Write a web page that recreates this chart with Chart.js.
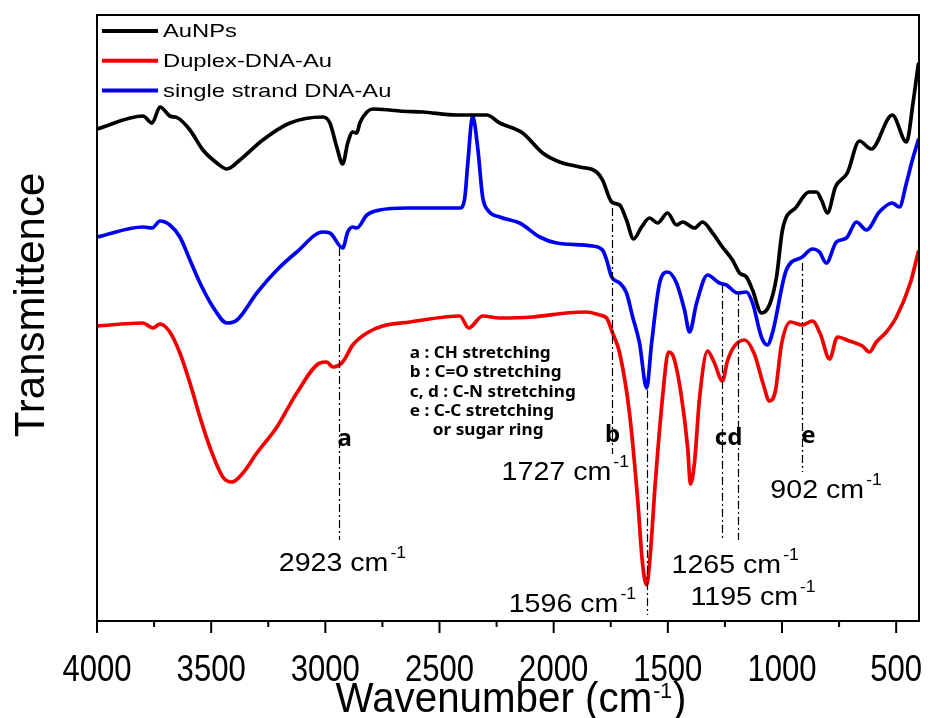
<!DOCTYPE html>
<html>
<head>
<meta charset="utf-8">
<script src="https://cdn.jsdelivr.net/npm/chart.js@4.4.0/dist/chart.umd.min.js"></script>
<style>
  html, body { margin: 0; padding: 0; background: #fff; }
  #wrap { width: 928px; height: 718px; }
</style>
</head>
<body>
<div id="wrap"><canvas id="ftirChart" width="928" height="718"></canvas></div>
<script>
// x-axis: wavenumber (cm-1), reversed
const xMin = 400;
const xMax = 4000;
const xTickLabels = [4000, 3500, 3000, 2500, 2000, 1500, 1000, 500];
const xMinorTicks = [3750, 3250, 2750, 2250, 1750, 1250, 750];

// transmittance, arbitrary units (series offset as in the original figure)
const yMin = 0;
const yMax = 606;

const seriesNames = ['AuNPs', 'Duplex-DNA-Au', 'single strand DNA-Au'];
const seriesColors = ['#000000', '#f20000', '#0000f0'];

const auWave = [4000, 3799, 3759, 3724, 3681, 3646, 3593, 3536, 3475, 3431, 3374, 3274, 3155, 3011, 2980,
  2950, 2924, 2902, 2880, 2862, 2849, 2818, 2792, 2718, 2674, 2573, 2425, 2355, 2293, 2236,
  2136, 2048, 1974, 1886, 1812, 1786, 1746, 1711, 1681, 1650, 1615, 1580, 1545, 1501, 1462,
  1435, 1383, 1348, 1304, 1261, 1217, 1186, 1156, 1129, 1090, 1055, 1024, 998, 937, 880,
  849, 827, 801, 766, 714, 661, 609, 517, 455, 425, 403];
const auT = [492, 505, 498, 514, 505, 503, 491, 471, 458, 452, 461, 481, 498, 504, 498,
  474, 457, 478, 489, 488, 498, 509, 512, 511, 510, 509, 506, 506, 506, 498,
  488, 468, 459, 454, 449, 441, 419, 416, 401, 382, 394, 403, 398, 408, 396,
  399, 393, 399, 388, 374, 361, 348, 344, 331, 308, 316, 344, 391, 414, 429,
  429, 421, 408, 434, 448, 480, 472, 506, 479, 520, 557];

const duplexWave = [4000, 3799, 3755, 3724, 3681, 3637, 3593, 3549, 3506, 3449, 3409, 3361, 3300, 3212, 3125,
  3024, 2994, 2967, 2924, 2880, 2818, 2749, 2630, 2411, 2372, 2311, 2236, 2092, 1943, 1856,
  1799, 1768, 1742, 1711, 1668, 1633, 1611, 1593, 1580, 1554, 1523, 1497, 1475, 1444, 1413,
  1401, 1383, 1361, 1326, 1296, 1261, 1239, 1208, 1164, 1121, 1081, 1055, 1029, 1002, 963,
  911, 867, 832, 792, 757, 705, 648, 617, 587, 543, 499, 438, 403];
const duplexT = [295, 298, 293, 297, 289, 268, 238, 204, 174, 144, 139, 148, 168, 194, 228,
  258, 259, 254, 259, 276, 288, 295, 299, 305, 293, 305, 303, 304, 308, 309,
  306, 303, 288, 268, 208, 124, 58, 36, 58, 141, 224, 269, 264, 230, 173,
  137, 159, 223, 270, 258, 240, 260, 275, 281, 267, 236, 220, 230, 277, 299,
  296, 300, 287, 262, 284, 280, 275, 269, 279, 289, 304, 338, 369];

const ssWave = [4000, 3799, 3759, 3724, 3681, 3637, 3593, 3549, 3492, 3431, 3387, 3300, 3212, 3125, 3011,
  2980, 2924, 2902, 2880, 2862, 2818, 2762, 2643, 2411, 2390, 2376, 2355, 2333, 2311, 2289,
  2236, 2149, 2061, 1987, 1830, 1786, 1768, 1746, 1711, 1681, 1654, 1624, 1593, 1571, 1536,
  1501, 1462, 1427, 1405, 1374, 1326, 1274, 1243, 1195, 1156, 1129, 1090, 1064, 1042, 981,
  911, 867, 836, 806, 762, 718, 674, 630, 574, 517, 486, 455, 429, 403];
const ssT = [384, 394, 393, 400, 396, 384, 361, 338, 314, 298, 301, 328, 351, 369, 389,
  388, 373, 389, 394, 393, 406, 411, 413, 413, 422, 458, 505, 474, 424, 411,
  404, 398, 384, 378, 375, 371, 361, 344, 338, 328, 304, 278, 233, 278, 338,
  349, 338, 311, 289, 318, 346, 338, 336, 328, 329, 318, 284, 276, 288, 351,
  364, 372, 369, 358, 379, 383, 399, 391, 409, 418, 414, 438, 461, 481];

// dash-dot marker lines
const markerWave = [2939, 1746, 1591, 1261, 1191, 911];
const markerTop = [373, 413, 231, 336, 328, 358];
const markerBottom = [81, 167, 6, 81, 81, 149];

// peak letters
const peakLetters = ['a', 'b', 'cd', 'e'];
const letterWave = [2915, 1742, 1234, 884];
const letterT = [182, 186, 183, 185];

// peak position labels
const peakLabels = ['2923', '1727', '1596', '1265', '1195', '902'];
const labelWave = [3204, 2228, 2197, 1484, 1401, 1051];
const labelT = [50, 141, 9, 48, 16, 123];

// assignment notes
const noteLines = ['a : CH stretching', 'b : C=O stretching', 'c, d : C-N stretching', 'e : C-C stretching', 'or sugar ring'];
const noteWave = 2630;
const noteT = 268;

function toPoints(wave, t) {
    return wave.map((w, i) => ({ x: w, y: t[i] }));
}

// draw text squeezed/stretched horizontally
function drawText(ctx, text, x, y, sx, align) {
    const w = ctx.measureText(text).width * sx;
    let x0 = x;
    if (align === 'center') x0 = x - w / 2;
    if (align === 'right') x0 = x - w;
    ctx.save();
    ctx.translate(x0, y);
    ctx.scale(sx, 1);
    ctx.textAlign = 'left';
    ctx.fillText(text, 0, 0);
    ctx.restore();
    return w;
}

const decorPlugin = {
    id: 'ftirDecor',
    afterDraw(chart) {
        const ctx = chart.ctx;
        const a = chart.chartArea;
        const xs = chart.scales.x;
        const ys = chart.scales.y;
        ctx.save();
        ctx.fillStyle = '#000';
        ctx.strokeStyle = '#000';

        // marker lines
        ctx.lineWidth = 1.2;
        ctx.setLineDash([8, 3, 2, 3]);
        markerWave.forEach((w, i) => {
            const px = Math.round(xs.getPixelForValue(w)) + 0.5;
            ctx.beginPath();
            ctx.moveTo(px, ys.getPixelForValue(markerTop[i]));
            ctx.lineTo(px, ys.getPixelForValue(markerBottom[i]));
            ctx.stroke();
        });
        ctx.setLineDash([]);

        // frame
        ctx.lineWidth = 2;
        ctx.strokeRect(a.left, a.top, a.right - a.left, a.bottom - a.top);

        // x ticks
        xTickLabels.forEach(v => {
            const px = xs.getPixelForValue(v);
            ctx.beginPath();
            ctx.moveTo(px, a.bottom);
            ctx.lineTo(px, a.bottom + 12);
            ctx.stroke();
        });
        xMinorTicks.forEach(v => {
            const px = xs.getPixelForValue(v);
            ctx.beginPath();
            ctx.moveTo(px, a.bottom);
            ctx.lineTo(px, a.bottom + 6);
            ctx.stroke();
        });
        ctx.font = '37px "Liberation Sans", Arial, sans-serif';
        ctx.textBaseline = 'alphabetic';
        xTickLabels.forEach(v => {
            drawText(ctx, String(v), xs.getPixelForValue(v), a.bottom + 60, 0.84, 'center');
        });

        // x title with superscript
        const mainT = 'Wavenumber (cm';
        const tsx = 0.96;
        ctx.font = '42px "Liberation Sans", Arial, sans-serif';
        const wMain = ctx.measureText(mainT).width * tsx;
        const wClose = ctx.measureText(')').width * tsx;
        ctx.font = '22px "Liberation Sans", Arial, sans-serif';
        const wSup = ctx.measureText('-1').width * tsx;
        const total = wMain + wSup + 2 + wClose;
        const tx = 511 - total / 2;
        const tb = 712;
        ctx.font = '42px "Liberation Sans", Arial, sans-serif';
        drawText(ctx, mainT, tx, tb, tsx, 'left');
        drawText(ctx, ')', tx + wMain + wSup + 2, tb, tsx, 'left');
        ctx.font = '22px "Liberation Sans", Arial, sans-serif';
        drawText(ctx, '-1', tx + wMain + 1, tb - 14, tsx, 'left');

        // y title
        ctx.save();
        ctx.translate(44, (a.top + a.bottom) / 2 - 13);
        ctx.rotate(-Math.PI / 2);
        ctx.font = '42px "Liberation Sans", Arial, sans-serif';
        ctx.textAlign = 'center';
        ctx.fillText('Transmittence', 0, 0);
        ctx.restore();

        // legend
        chart.data.datasets.forEach((ds, i) => {
            const cy = a.top + 16 + i * 29.8;
            ctx.strokeStyle = ds.borderColor;
            ctx.lineWidth = 4;
            ctx.beginPath();
            ctx.moveTo(a.left + 5, cy);
            ctx.lineTo(a.left + 61, cy);
            ctx.stroke();
            ctx.font = '19px "Liberation Sans", Arial, sans-serif';
            ctx.textBaseline = 'middle';
            drawText(ctx, ds.label, a.left + 66, cy + 1, 1.25, 'left');
        });
        ctx.textBaseline = 'alphabetic';

        // peak letters
        ctx.font = 'bold 24px "Noto Sans", "DejaVu Sans", sans-serif';
        ctx.textBaseline = 'middle';
        peakLetters.forEach((t, i) => {
            drawText(ctx, t, xs.getPixelForValue(letterWave[i]), ys.getPixelForValue(letterT[i]), 1, 'center');
        });

        // peak position labels
        ctx.textBaseline = 'alphabetic';
        peakLabels.forEach((t, i) => {
            const px = xs.getPixelForValue(labelWave[i]);
            const py = ys.getPixelForValue(labelT[i]);
            ctx.font = '26px "Liberation Sans", Arial, sans-serif';
            const w = drawText(ctx, t + ' cm', px, py, 1.1, 'left');
            ctx.font = '16px "Liberation Sans", Arial, sans-serif';
            drawText(ctx, '-1', px + w + 2, py - 13, 1.1, 'left');
        });

        // notes
        ctx.font = 'bold 16.5px "Noto Sans", "DejaVu Sans", sans-serif';
        ctx.textBaseline = 'middle';
        const nx = xs.getPixelForValue(noteWave);
        const ny = ys.getPixelForValue(noteT);
        noteLines.forEach((t, i) => {
            const indent = i === noteLines.length - 1 ? 23 : 0;
            drawText(ctx, t, nx + indent, ny + i * 19.4, 1.04, 'left');
        });

        ctx.restore();
    }
};

const ctx = document.getElementById('ftirChart').getContext('2d');

new Chart(ctx, {
    type: 'line',
    data: {
        datasets: [
            { label: seriesNames[0], data: toPoints(auWave, auT), borderColor: seriesColors[0] },
            { label: seriesNames[1], data: toPoints(duplexWave, duplexT), borderColor: seriesColors[1] },
            { label: seriesNames[2], data: toPoints(ssWave, ssT), borderColor: seriesColors[2] }
        ]
    },
    options: {
        responsive: false,
        animation: false,
        parsing: false,
        layout: { padding: { left: 97, top: 15, right: 9, bottom: 97 } },
        elements: {
            line: { borderWidth: 3.7, fill: false, cubicInterpolationMode: 'monotone', borderCapStyle: 'round', borderJoinStyle: 'round' },
            point: { radius: 0 }
        },
        plugins: {
            legend: { display: false },
            tooltip: { enabled: false }
        },
        scales: {
            x: { type: 'linear', reverse: true, min: xMin, max: xMax, display: false },
            y: { type: 'linear', min: yMin, max: yMax, display: false }
        }
    },
    plugins: [decorPlugin]
});
</script>
</body>
</html>
